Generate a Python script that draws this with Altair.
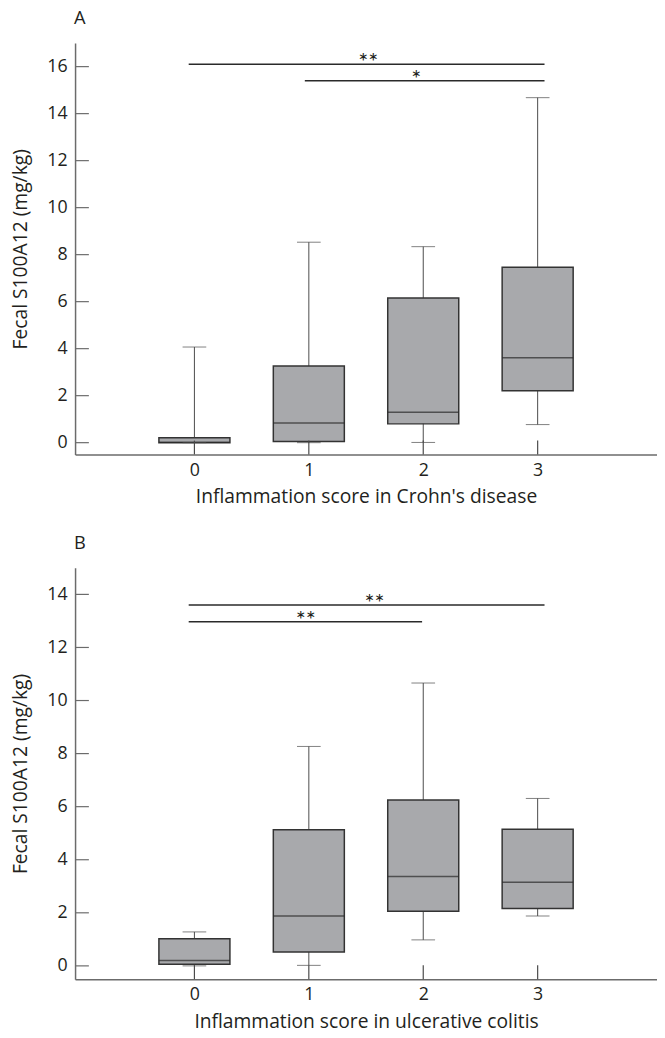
import altair as alt
import pandas as pd

# ---- data ----
cats = [0, 1, 2, 3]

a_min = [0.0, 0.0, 0.01, 0.77]
a_q1 = [0.0, 0.05, 0.80, 2.21]
a_med = [0.02, 0.84, 1.29, 3.61]
a_q3 = [0.21, 3.26, 6.16, 7.46]
a_max = [4.07, 8.53, 8.34, 14.68]

b_min = [0.0, 0.02, 0.98, 1.88]
b_q1 = [0.06, 0.52, 2.06, 2.16]
b_med = [0.20, 1.88, 3.37, 3.15]
b_q3 = [1.02, 5.13, 6.25, 5.15]
b_max = [1.28, 8.27, 10.66, 6.31]

# significance bars: value, start, end, label, label position
a_sig_y = [16.1, 15.4]
a_sig_x1 = [-0.05, 0.965]
a_sig_x2 = [3.06, 3.06]
a_sig_lab = ["**", "*"]
a_sig_labx = [1.52, 1.94]

b_sig_y = [13.6, 12.97]
b_sig_x1 = [-0.05, -0.05]
b_sig_x2 = [3.06, 1.99]
b_sig_lab = ["**", "**"]
b_sig_labx = [1.575, 0.974]

a_yticks = [0, 2, 4, 6, 8, 10, 12, 14, 16]
b_yticks = [0, 2, 4, 6, 8, 10, 12, 14]
x_ticks = [0, 1, 2, 3]

FONT = "Open Sans"
STAR_FONT = "Lato"
TXT = "#231f20"
W, H = 590, 417


def panel(letter, xtitle, mn, q1, md, q3, mx, sy, sx1, sx2, slab, slabx, yticks, ydom):
    box = pd.DataFrame({"cat": cats, "min": mn, "q1": q1, "med": md, "q3": q3, "max": mx})
    sig = pd.DataFrame({"y": sy, "x1": sx1, "x2": sx2, "lab": slab, "lx": slabx})
    yt = pd.DataFrame({"v": yticks})
    xt = pd.DataFrame({"v": x_ticks})

    xs = alt.Scale(domain=[-1, 4], nice=False, zero=False)
    ys = alt.Scale(domain=ydom, nice=False, zero=False)
    xax = alt.Axis(values=x_ticks, title=xtitle, grid=False, ticks=False, tickSize=0,
                   labelPadding=7, titlePadding=9, format="d")
    yax = alt.Axis(values=yticks, title="Fecal S100A12 (mg/kg)", grid=False, ticks=False,
                   tickSize=0, labelPadding=8, titlePadding=17, format="d")

    base = alt.Chart(box)
    whisk = base.mark_rule(color="#4a4a4a", strokeWidth=1).encode(
        x=alt.X("cat:Q", scale=xs, axis=xax),
        y=alt.Y("min:Q", scale=ys, axis=yax),
        y2="max:Q",
    )
    caps_lo = base.mark_tick(orient="horizontal", size=24, thickness=1, color="#4a4a4a").encode(
        x="cat:Q", y="min:Q")
    caps_hi = base.mark_tick(orient="horizontal", size=24, thickness=1, color="#4a4a4a").encode(
        x="cat:Q", y="max:Q")
    boxes = base.mark_bar(size=72, color="#a8a9ac", stroke="#333333", strokeWidth=1.5).encode(
        x="cat:Q", y="q1:Q", y2="q3:Q")
    meds = base.mark_tick(orient="horizontal", size=72, thickness=1.5, color="#2a2a2a").encode(
        x="cat:Q", y="med:Q")

    ytk = alt.Chart(yt).mark_rule(color="#6b6b6b", strokeWidth=1.2).encode(
        y="v:Q", x=alt.value(0), x2=alt.value(14))
    xtk = alt.Chart(xt).mark_rule(color="#4a4a4a", strokeWidth=1.2).encode(
        x="v:Q", y=alt.value(H), y2=alt.value(H - 14))

    sig_lines = alt.Chart(sig).mark_rule(color="#2a2a2a", strokeWidth=1.6).encode(
        x="x1:Q", x2="x2:Q", y="y:Q")
    sig_text = alt.Chart(sig).mark_text(font=STAR_FONT, fontSize=24, color=TXT,
                                         baseline="alphabetic", dy=6).encode(
        x="lx:Q", y="y:Q", text="lab:N")

    return alt.layer(whisk, boxes, meds, caps_lo, caps_hi, xtk, ytk, sig_lines, sig_text).properties(
        width=W, height=H,
        title=alt.TitleParams(letter, anchor="start", frame="group", offset=1,
                              baseline="alphabetic", fontSize=18.5, fontWeight="normal",
                              font=FONT, color=TXT, dx=-1),
    )


pa = panel("A", "Inflammation score in Crohn's disease", a_min, a_q1, a_med, a_q3, a_max,
           a_sig_y, a_sig_x1, a_sig_x2, a_sig_lab, a_sig_labx, a_yticks, [-0.5, 17])
pb = panel("B", "Inflammation score in ulcerative colitis", b_min, b_q1, b_med, b_q3, b_max,
           b_sig_y, b_sig_x1, b_sig_x2, b_sig_lab, b_sig_labx, b_yticks, [-0.5, 15])

chart = alt.vconcat(pa, pb, spacing=27).properties(
    padding={"left": 2, "top": -6.5, "right": 0, "bottom": -4}
).configure_view(stroke=None).configure_axis(
    domainColor="#6b6b6b", domainWidth=1.5,
    labelFont=FONT, labelFontSize=18, labelColor=TXT,
    titleFont=FONT, titleFontSize=19.5, titleFontWeight="normal", titleColor=TXT,
)

chart.save("out.html", embed_options={"renderer": "svg", "actions": False})
